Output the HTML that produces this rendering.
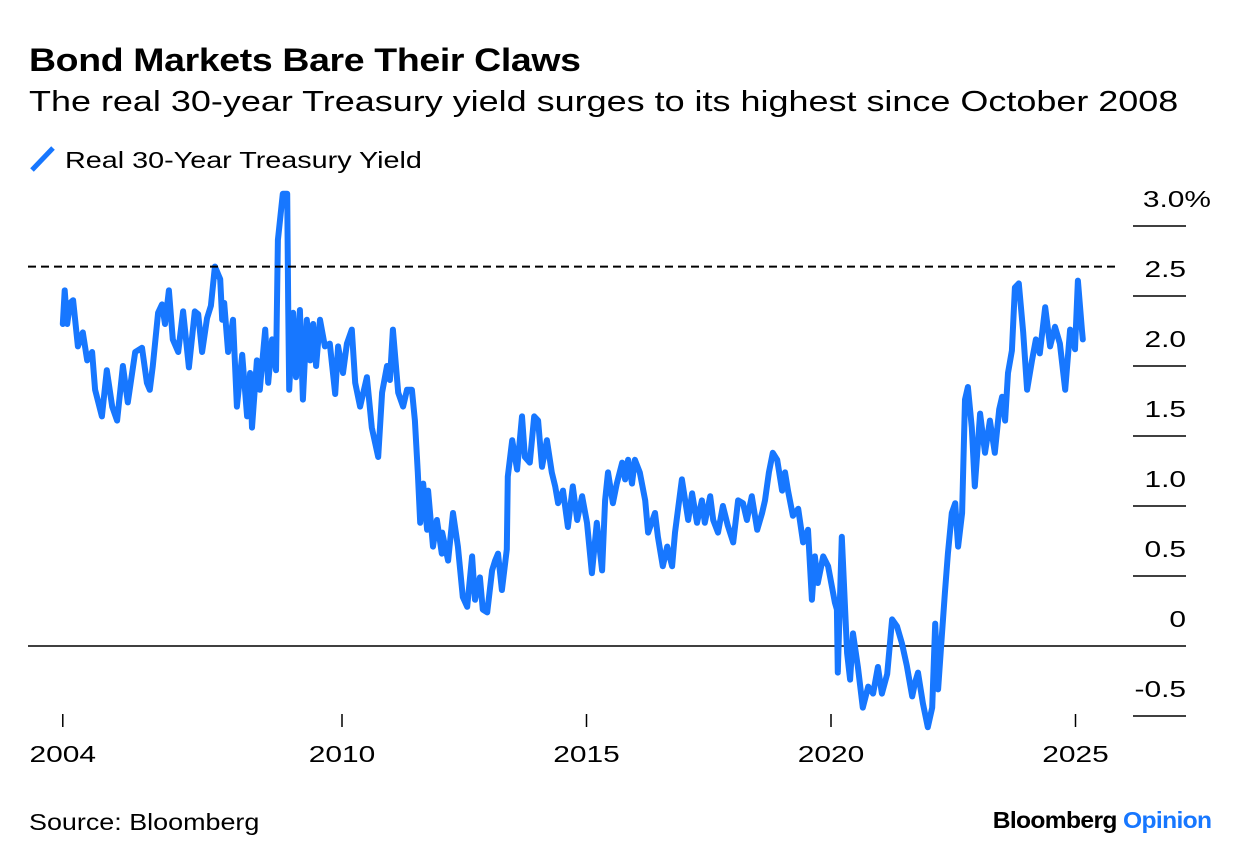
<!DOCTYPE html>
<html><head><meta charset="utf-8">
<style>
body{margin:0;background:#fff;width:1240px;height:866px;overflow:hidden;font-family:"Liberation Sans",Arial,sans-serif;}
.sx{transform-origin:0 0;white-space:nowrap}
#t{position:absolute;left:29px;top:42px;font-size:32px;font-weight:bold;color:#000;letter-spacing:-0.3px;transform:scaleX(1.17)}
#s{position:absolute;left:29px;top:86px;font-size:29px;color:#000;transform:scaleX(1.24)}
#lg{position:absolute;left:29px;top:147px;font-size:23px;color:#000}
#lgt{display:inline-block;transform:scaleX(1.25);transform-origin:0 50%}
#src{position:absolute;left:29px;top:809px;font-size:23px;color:#000;transform:scaleX(1.17)}
#bo{position:absolute;right:29px;top:807px;font-size:23px;font-weight:bold;color:#000;letter-spacing:-0.6px;transform:scaleX(1.07);transform-origin:100% 0}
svg{position:absolute;left:0;top:0}
</style></head><body>
<div id="t" class="sx">Bond Markets Bare Their Claws</div>
<div id="s" class="sx">The real 30-year Treasury yield surges to its highest since October 2008</div>
<div id="lg"><svg width="30" height="30" style="position:relative;vertical-align:middle;top:-3px"><line x1="3" y1="26" x2="24" y2="4" stroke="#1777ff" stroke-width="5"/></svg> <span id="lgt">Real 30-Year Treasury Yield</span></div>
<div id="src" class="sx">Source: Bloomberg</div>
<div id="bo">Bloomberg <span style="color:#1777ff">Opinion</span></div>
<svg id="chart" width="1240" height="866"></svg>
<script>
const dates=[2004.29,2004.33,2004.38,2004.44,2004.50,2004.60,2004.70,2004.79,2004.89,2004.95,2005.09,2005.19,2005.30,2005.40,2005.52,2005.62,2005.77,2005.91,2006.01,2006.07,2006.13,2006.24,2006.32,2006.38,2006.46,2006.54,2006.65,2006.75,2006.87,2006.99,2007.06,2007.14,2007.24,2007.32,2007.40,2007.51,2007.55,2007.59,2007.67,2007.77,2007.85,2007.96,2008.06,2008.12,2008.16,2008.26,2008.32,2008.43,2008.49,2008.57,2008.65,2008.69,2008.79,2008.88,2008.90,2008.92,2009.00,2009.06,2009.14,2009.20,2009.28,2009.35,2009.41,2009.47,2009.55,2009.65,2009.75,2009.86,2009.92,2010.02,2010.10,2010.20,2010.27,2010.37,2010.51,2010.61,2010.74,2010.82,2010.92,2010.98,2011.04,2011.15,2011.25,2011.33,2011.43,2011.49,2011.55,2011.60,2011.66,2011.74,2011.76,2011.86,2011.94,2012.04,2012.05,2012.17,2012.27,2012.37,2012.47,2012.56,2012.66,2012.72,2012.82,2012.88,2012.97,2013.07,2013.13,2013.19,2013.27,2013.37,2013.39,2013.48,2013.58,2013.68,2013.74,2013.84,2013.93,2014.01,2014.09,2014.19,2014.29,2014.36,2014.42,2014.52,2014.62,2014.72,2014.81,2014.91,2015.01,2015.11,2015.21,2015.32,2015.38,2015.44,2015.54,2015.62,2015.73,2015.79,2015.85,2015.93,2015.99,2016.09,2016.20,2016.26,2016.40,2016.46,2016.56,2016.65,2016.75,2016.81,2016.87,2016.95,2017.08,2017.16,2017.26,2017.36,2017.42,2017.53,2017.59,2017.69,2017.79,2017.89,2018.00,2018.10,2018.20,2018.28,2018.38,2018.49,2018.59,2018.65,2018.73,2018.81,2018.90,2019.00,2019.06,2019.12,2019.22,2019.33,2019.43,2019.53,2019.61,2019.67,2019.73,2019.84,2019.94,2020.08,2020.12,2020.14,2020.22,2020.33,2020.39,2020.45,2020.55,2020.65,2020.76,2020.86,2020.96,2021.04,2021.15,2021.25,2021.35,2021.45,2021.55,2021.66,2021.72,2021.78,2021.88,2021.98,2022.07,2022.13,2022.19,2022.27,2022.33,2022.39,2022.47,2022.54,2022.60,2022.68,2022.74,2022.80,2022.88,2022.94,2023.05,2023.15,2023.25,2023.35,2023.44,2023.50,2023.56,2023.62,2023.70,2023.76,2023.84,2023.93,2024.01,2024.11,2024.19,2024.27,2024.38,2024.48,2024.58,2024.68,2024.79,2024.89,2024.99,2025.05,2025.13,2025.15];
const yields=[2.3,2.54,2.3,2.45,2.47,2.14,2.24,2.04,2.1,1.83,1.64,1.97,1.71,1.61,2.0,1.74,2.1,2.13,1.88,1.83,2.0,2.38,2.44,2.3,2.54,2.19,2.1,2.39,1.99,2.39,2.37,2.1,2.34,2.43,2.71,2.62,2.33,2.45,2.1,2.33,1.71,2.08,1.64,1.95,1.56,2.04,1.83,2.26,1.88,2.19,1.97,2.9,3.23,3.23,2.43,1.83,2.38,1.92,2.4,1.76,2.33,2.04,2.3,2.0,2.33,2.14,2.16,1.8,2.14,1.95,2.16,2.26,1.88,1.71,1.92,1.56,1.35,1.81,2.0,1.9,2.26,1.81,1.71,1.83,1.83,1.61,1.24,0.88,1.16,0.83,1.11,0.71,0.9,0.66,0.81,0.61,0.95,0.71,0.35,0.28,0.64,0.33,0.49,0.26,0.24,0.54,0.61,0.66,0.4,0.69,1.21,1.47,1.26,1.64,1.35,1.31,1.64,1.61,1.28,1.47,1.24,1.14,1.02,1.11,0.85,1.14,0.9,1.07,0.88,0.52,0.88,0.54,1.04,1.24,1.02,1.16,1.31,1.19,1.33,1.16,1.33,1.24,1.04,0.81,0.95,0.78,0.57,0.71,0.57,0.81,0.97,1.19,0.9,1.09,0.88,1.04,0.88,1.07,0.9,0.81,1.0,0.86,0.74,1.04,1.02,0.9,1.07,0.83,0.95,1.04,1.24,1.38,1.33,1.11,1.24,1.11,0.93,0.98,0.74,0.83,0.33,0.64,0.45,0.64,0.57,0.31,0.26,-0.19,0.78,-0.05,-0.24,0.09,-0.15,-0.44,-0.29,-0.34,-0.15,-0.34,-0.2,0.19,0.14,0.02,-0.14,-0.36,-0.26,-0.19,-0.41,-0.58,-0.44,0.16,-0.31,0.09,0.38,0.66,0.95,1.02,0.71,0.95,1.76,1.85,1.56,1.14,1.66,1.38,1.61,1.38,1.69,1.78,1.61,1.95,2.11,2.56,2.59,2.24,1.83,2.04,2.19,2.09,2.42,2.14,2.28,2.16,1.83,2.26,2.12,2.61,2.26,2.19,2.26,2.71];
const yTicks=[-0.5,0,0.5,1.0,1.5,2.0,2.5,3.0];
const yTickLabels=["-0.5","0","0.5","1.0","1.5","2.0","2.5","3.0%"];
const xTicks=[2004.29,2010,2015,2020,2025];
const xTickLabels=["2004","2010","2015","2020","2025"];
const refLevel=2.71;
const NS="http://www.w3.org/2000/svg";
const svg=document.getElementById('chart');
const X=v=>342+(v-2010)*48.9;
const Y=v=>646-v*140;
function mk(tag,attrs,parent){const e=document.createElementNS(NS,tag);for(const k in attrs)e.setAttribute(k,attrs[k]);(parent||svg).appendChild(e);return e;}
yTicks.forEach((t,i)=>{
  if(t!==0){const l=mk('line',{x1:1133,x2:1186,y1:Y(t),y2:Y(t),stroke:'#000','stroke-width':1.5});
  
  }
  const ax=yTickLabels[i].includes('%')?1211:1186;
  const tx=mk('text',{x:0,y:0,transform:'translate('+ax+','+(Y(t)-19)+') scale(1.3,1)','text-anchor':'end','font-size':23,'font-family':'Liberation Sans, sans-serif'});
  tx.textContent=yTickLabels[i];
  
  
});
const zl=mk('line',{x1:28,x2:1186,y1:Y(0),y2:Y(0),stroke:'#000','stroke-width':1.5});


xTicks.forEach((t,i)=>{
  const l=mk('line',{x1:X(t),x2:X(t),y1:714,y2:727,stroke:'#000','stroke-width':1.5});
  
  
  const tx=mk('text',{x:0,y:0,transform:'translate('+X(t)+',762) scale(1.3,1)','text-anchor':'middle','font-size':23,'font-family':'Liberation Sans, sans-serif'});
  tx.textContent=xTickLabels[i];
  
  
});
let d='';dates.forEach((t,i)=>{d+=(i?'L':'M')+X(t).toFixed(1)+','+Y(yields[i]).toFixed(1);});
const p=mk('path',{d:d,fill:'none',stroke:'#1777ff','stroke-width':6,'stroke-linejoin':'round','stroke-linecap':'round'});


const dl=mk('line',{x1:28,x2:1115,y1:Y(refLevel),y2:Y(refLevel),stroke:'#000','stroke-width':2,'stroke-dasharray':'8,5'});


</script>
</body></html>
